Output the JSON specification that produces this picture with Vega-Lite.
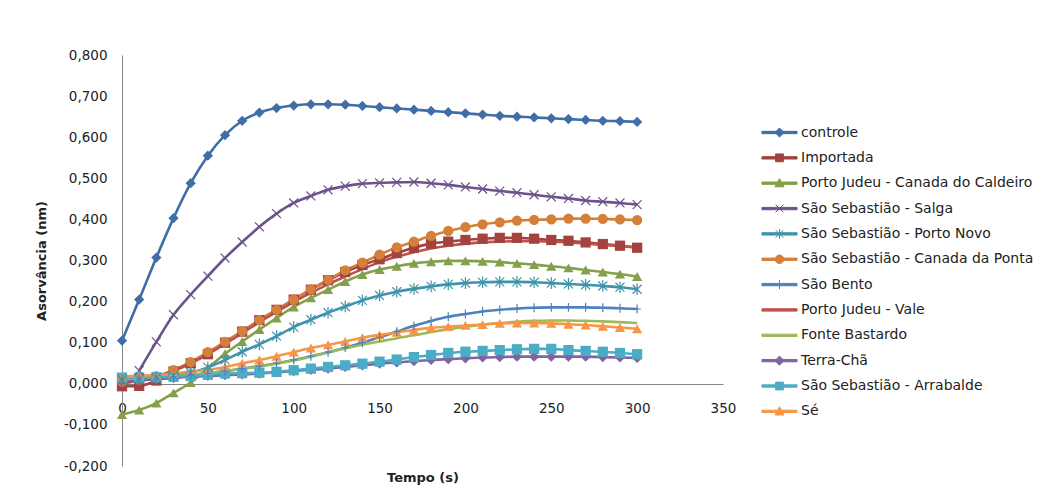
{
"$schema": "https://vega.github.io/schema/vega-lite/v6.json",
"width": 601, "height": 411,
"autosize": {"type": "none"},
"padding": {"left": 122, "top": 55, "right": 326, "bottom": 33},
"background": "white",
"config": {"view": {"stroke": null}, "font": "DejaVu Sans"},
"data": {"values": [
{"t":0,"s":"controle","v":0.105},{"t":10,"s":"controle","v":0.205},{"t":20,"s":"controle","v":0.307},{"t":30,"s":"controle","v":0.403},{"t":40,"s":"controle","v":0.488},{"t":50,"s":"controle","v":0.555},{"t":60,"s":"controle","v":0.605},{"t":70,"s":"controle","v":0.640},{"t":80,"s":"controle","v":0.660},{"t":90,"s":"controle","v":0.671},{"t":100,"s":"controle","v":0.677},{"t":110,"s":"controle","v":0.680},{"t":120,"s":"controle","v":0.680},{"t":130,"s":"controle","v":0.679},{"t":140,"s":"controle","v":0.676},{"t":150,"s":"controle","v":0.673},{"t":160,"s":"controle","v":0.670},{"t":170,"s":"controle","v":0.667},{"t":180,"s":"controle","v":0.664},{"t":190,"s":"controle","v":0.661},{"t":200,"s":"controle","v":0.658},{"t":210,"s":"controle","v":0.655},{"t":220,"s":"controle","v":0.652},{"t":230,"s":"controle","v":0.650},{"t":240,"s":"controle","v":0.648},{"t":250,"s":"controle","v":0.646},{"t":260,"s":"controle","v":0.644},{"t":270,"s":"controle","v":0.642},{"t":280,"s":"controle","v":0.640},{"t":290,"s":"controle","v":0.639},{"t":300,"s":"controle","v":0.637},
{"t":0,"s":"Importada","v":-0.006},{"t":10,"s":"Importada","v":-0.005},{"t":20,"s":"Importada","v":0.008},{"t":30,"s":"Importada","v":0.030},{"t":40,"s":"Importada","v":0.050},{"t":50,"s":"Importada","v":0.072},{"t":60,"s":"Importada","v":0.100},{"t":70,"s":"Importada","v":0.127},{"t":80,"s":"Importada","v":0.155},{"t":90,"s":"Importada","v":0.180},{"t":100,"s":"Importada","v":0.205},{"t":110,"s":"Importada","v":0.229},{"t":120,"s":"Importada","v":0.252},{"t":130,"s":"Importada","v":0.272},{"t":140,"s":"Importada","v":0.289},{"t":150,"s":"Importada","v":0.303},{"t":160,"s":"Importada","v":0.318},{"t":170,"s":"Importada","v":0.331},{"t":180,"s":"Importada","v":0.341},{"t":190,"s":"Importada","v":0.346},{"t":200,"s":"Importada","v":0.350},{"t":210,"s":"Importada","v":0.353},{"t":220,"s":"Importada","v":0.355},{"t":230,"s":"Importada","v":0.355},{"t":240,"s":"Importada","v":0.353},{"t":250,"s":"Importada","v":0.350},{"t":260,"s":"Importada","v":0.348},{"t":270,"s":"Importada","v":0.344},{"t":280,"s":"Importada","v":0.340},{"t":290,"s":"Importada","v":0.336},{"t":300,"s":"Importada","v":0.331},
{"t":0,"s":"Porto Judeu - Canada do Caldeiro","v":-0.075},{"t":10,"s":"Porto Judeu - Canada do Caldeiro","v":-0.064},{"t":20,"s":"Porto Judeu - Canada do Caldeiro","v":-0.047},{"t":30,"s":"Porto Judeu - Canada do Caldeiro","v":-0.022},{"t":40,"s":"Porto Judeu - Canada do Caldeiro","v":0.003},{"t":50,"s":"Porto Judeu - Canada do Caldeiro","v":0.038},{"t":60,"s":"Porto Judeu - Canada do Caldeiro","v":0.073},{"t":70,"s":"Porto Judeu - Canada do Caldeiro","v":0.103},{"t":80,"s":"Porto Judeu - Canada do Caldeiro","v":0.132},{"t":90,"s":"Porto Judeu - Canada do Caldeiro","v":0.160},{"t":100,"s":"Porto Judeu - Canada do Caldeiro","v":0.187},{"t":110,"s":"Porto Judeu - Canada do Caldeiro","v":0.209},{"t":120,"s":"Porto Judeu - Canada do Caldeiro","v":0.229},{"t":130,"s":"Porto Judeu - Canada do Caldeiro","v":0.249},{"t":140,"s":"Porto Judeu - Canada do Caldeiro","v":0.266},{"t":150,"s":"Porto Judeu - Canada do Caldeiro","v":0.278},{"t":160,"s":"Porto Judeu - Canada do Caldeiro","v":0.286},{"t":170,"s":"Porto Judeu - Canada do Caldeiro","v":0.293},{"t":180,"s":"Porto Judeu - Canada do Caldeiro","v":0.297},{"t":190,"s":"Porto Judeu - Canada do Caldeiro","v":0.299},{"t":200,"s":"Porto Judeu - Canada do Caldeiro","v":0.299},{"t":210,"s":"Porto Judeu - Canada do Caldeiro","v":0.298},{"t":220,"s":"Porto Judeu - Canada do Caldeiro","v":0.296},{"t":230,"s":"Porto Judeu - Canada do Caldeiro","v":0.293},{"t":240,"s":"Porto Judeu - Canada do Caldeiro","v":0.290},{"t":250,"s":"Porto Judeu - Canada do Caldeiro","v":0.286},{"t":260,"s":"Porto Judeu - Canada do Caldeiro","v":0.282},{"t":270,"s":"Porto Judeu - Canada do Caldeiro","v":0.277},{"t":280,"s":"Porto Judeu - Canada do Caldeiro","v":0.272},{"t":290,"s":"Porto Judeu - Canada do Caldeiro","v":0.267},{"t":300,"s":"Porto Judeu - Canada do Caldeiro","v":0.261},
{"t":10,"s":"São Sebastião - Salga","v":0.032},{"t":20,"s":"São Sebastião - Salga","v":0.102},{"t":30,"s":"São Sebastião - Salga","v":0.168},{"t":40,"s":"São Sebastião - Salga","v":0.217},{"t":50,"s":"São Sebastião - Salga","v":0.262},{"t":60,"s":"São Sebastião - Salga","v":0.306},{"t":70,"s":"São Sebastião - Salga","v":0.345},{"t":80,"s":"São Sebastião - Salga","v":0.382},{"t":90,"s":"São Sebastião - Salga","v":0.414},{"t":100,"s":"São Sebastião - Salga","v":0.440},{"t":110,"s":"São Sebastião - Salga","v":0.457},{"t":120,"s":"São Sebastião - Salga","v":0.472},{"t":130,"s":"São Sebastião - Salga","v":0.481},{"t":140,"s":"São Sebastião - Salga","v":0.487},{"t":150,"s":"São Sebastião - Salga","v":0.489},{"t":160,"s":"São Sebastião - Salga","v":0.490},{"t":170,"s":"São Sebastião - Salga","v":0.491},{"t":180,"s":"São Sebastião - Salga","v":0.488},{"t":190,"s":"São Sebastião - Salga","v":0.484},{"t":200,"s":"São Sebastião - Salga","v":0.479},{"t":210,"s":"São Sebastião - Salga","v":0.474},{"t":220,"s":"São Sebastião - Salga","v":0.469},{"t":230,"s":"São Sebastião - Salga","v":0.465},{"t":240,"s":"São Sebastião - Salga","v":0.460},{"t":250,"s":"São Sebastião - Salga","v":0.455},{"t":260,"s":"São Sebastião - Salga","v":0.451},{"t":270,"s":"São Sebastião - Salga","v":0.446},{"t":280,"s":"São Sebastião - Salga","v":0.443},{"t":290,"s":"São Sebastião - Salga","v":0.440},{"t":300,"s":"São Sebastião - Salga","v":0.436},
{"t":0,"s":"São Sebastião - Porto Novo","v":0.010},{"t":10,"s":"São Sebastião - Porto Novo","v":0.012},{"t":20,"s":"São Sebastião - Porto Novo","v":0.015},{"t":30,"s":"São Sebastião - Porto Novo","v":0.020},{"t":40,"s":"São Sebastião - Porto Novo","v":0.027},{"t":50,"s":"São Sebastião - Porto Novo","v":0.040},{"t":60,"s":"São Sebastião - Porto Novo","v":0.058},{"t":70,"s":"São Sebastião - Porto Novo","v":0.078},{"t":80,"s":"São Sebastião - Porto Novo","v":0.096},{"t":90,"s":"São Sebastião - Porto Novo","v":0.116},{"t":100,"s":"São Sebastião - Porto Novo","v":0.138},{"t":110,"s":"São Sebastião - Porto Novo","v":0.156},{"t":120,"s":"São Sebastião - Porto Novo","v":0.173},{"t":130,"s":"São Sebastião - Porto Novo","v":0.188},{"t":140,"s":"São Sebastião - Porto Novo","v":0.203},{"t":150,"s":"São Sebastião - Porto Novo","v":0.215},{"t":160,"s":"São Sebastião - Porto Novo","v":0.224},{"t":170,"s":"São Sebastião - Porto Novo","v":0.231},{"t":180,"s":"São Sebastião - Porto Novo","v":0.237},{"t":190,"s":"São Sebastião - Porto Novo","v":0.242},{"t":200,"s":"São Sebastião - Porto Novo","v":0.245},{"t":210,"s":"São Sebastião - Porto Novo","v":0.247},{"t":220,"s":"São Sebastião - Porto Novo","v":0.248},{"t":230,"s":"São Sebastião - Porto Novo","v":0.248},{"t":240,"s":"São Sebastião - Porto Novo","v":0.247},{"t":250,"s":"São Sebastião - Porto Novo","v":0.245},{"t":260,"s":"São Sebastião - Porto Novo","v":0.243},{"t":270,"s":"São Sebastião - Porto Novo","v":0.241},{"t":280,"s":"São Sebastião - Porto Novo","v":0.238},{"t":290,"s":"São Sebastião - Porto Novo","v":0.235},{"t":300,"s":"São Sebastião - Porto Novo","v":0.230},
{"t":0,"s":"São Sebastião - Canada da Ponta","v":0.005},{"t":10,"s":"São Sebastião - Canada da Ponta","v":0.010},{"t":20,"s":"São Sebastião - Canada da Ponta","v":0.018},{"t":30,"s":"São Sebastião - Canada da Ponta","v":0.033},{"t":40,"s":"São Sebastião - Canada da Ponta","v":0.053},{"t":50,"s":"São Sebastião - Canada da Ponta","v":0.077},{"t":60,"s":"São Sebastião - Canada da Ponta","v":0.102},{"t":70,"s":"São Sebastião - Canada da Ponta","v":0.128},{"t":80,"s":"São Sebastião - Canada da Ponta","v":0.155},{"t":90,"s":"São Sebastião - Canada da Ponta","v":0.180},{"t":100,"s":"São Sebastião - Canada da Ponta","v":0.205},{"t":110,"s":"São Sebastião - Canada da Ponta","v":0.230},{"t":120,"s":"São Sebastião - Canada da Ponta","v":0.253},{"t":130,"s":"São Sebastião - Canada da Ponta","v":0.276},{"t":140,"s":"São Sebastião - Canada da Ponta","v":0.295},{"t":150,"s":"São Sebastião - Canada da Ponta","v":0.314},{"t":160,"s":"São Sebastião - Canada da Ponta","v":0.332},{"t":170,"s":"São Sebastião - Canada da Ponta","v":0.346},{"t":180,"s":"São Sebastião - Canada da Ponta","v":0.360},{"t":190,"s":"São Sebastião - Canada da Ponta","v":0.372},{"t":200,"s":"São Sebastião - Canada da Ponta","v":0.381},{"t":210,"s":"São Sebastião - Canada da Ponta","v":0.388},{"t":220,"s":"São Sebastião - Canada da Ponta","v":0.393},{"t":230,"s":"São Sebastião - Canada da Ponta","v":0.397},{"t":240,"s":"São Sebastião - Canada da Ponta","v":0.399},{"t":250,"s":"São Sebastião - Canada da Ponta","v":0.400},{"t":260,"s":"São Sebastião - Canada da Ponta","v":0.402},{"t":270,"s":"São Sebastião - Canada da Ponta","v":0.402},{"t":280,"s":"São Sebastião - Canada da Ponta","v":0.401},{"t":290,"s":"São Sebastião - Canada da Ponta","v":0.400},{"t":300,"s":"São Sebastião - Canada da Ponta","v":0.398},
{"t":0,"s":"São Bento","v":0.010},{"t":10,"s":"São Bento","v":0.012},{"t":20,"s":"São Bento","v":0.014},{"t":30,"s":"São Bento","v":0.017},{"t":40,"s":"São Bento","v":0.021},{"t":50,"s":"São Bento","v":0.026},{"t":60,"s":"São Bento","v":0.031},{"t":70,"s":"São Bento","v":0.037},{"t":80,"s":"São Bento","v":0.043},{"t":90,"s":"São Bento","v":0.050},{"t":100,"s":"São Bento","v":0.058},{"t":110,"s":"São Bento","v":0.067},{"t":120,"s":"São Bento","v":0.077},{"t":130,"s":"São Bento","v":0.088},{"t":140,"s":"São Bento","v":0.100},{"t":150,"s":"São Bento","v":0.113},{"t":160,"s":"São Bento","v":0.127},{"t":170,"s":"São Bento","v":0.141},{"t":180,"s":"São Bento","v":0.153},{"t":190,"s":"São Bento","v":0.163},{"t":200,"s":"São Bento","v":0.170},{"t":210,"s":"São Bento","v":0.176},{"t":220,"s":"São Bento","v":0.180},{"t":230,"s":"São Bento","v":0.183},{"t":240,"s":"São Bento","v":0.185},{"t":250,"s":"São Bento","v":0.186},{"t":260,"s":"São Bento","v":0.186},{"t":270,"s":"São Bento","v":0.186},{"t":280,"s":"São Bento","v":0.185},{"t":290,"s":"São Bento","v":0.184},{"t":300,"s":"São Bento","v":0.182},
{"t":0,"s":"Porto Judeu - Vale","v":0.000},{"t":10,"s":"Porto Judeu - Vale","v":0.008},{"t":20,"s":"Porto Judeu - Vale","v":0.018},{"t":30,"s":"Porto Judeu - Vale","v":0.032},{"t":40,"s":"Porto Judeu - Vale","v":0.050},{"t":50,"s":"Porto Judeu - Vale","v":0.072},{"t":60,"s":"Porto Judeu - Vale","v":0.097},{"t":70,"s":"Porto Judeu - Vale","v":0.123},{"t":80,"s":"Porto Judeu - Vale","v":0.150},{"t":90,"s":"Porto Judeu - Vale","v":0.175},{"t":100,"s":"Porto Judeu - Vale","v":0.199},{"t":110,"s":"Porto Judeu - Vale","v":0.221},{"t":120,"s":"Porto Judeu - Vale","v":0.242},{"t":130,"s":"Porto Judeu - Vale","v":0.261},{"t":140,"s":"Porto Judeu - Vale","v":0.279},{"t":150,"s":"Porto Judeu - Vale","v":0.296},{"t":160,"s":"Porto Judeu - Vale","v":0.309},{"t":170,"s":"Porto Judeu - Vale","v":0.320},{"t":180,"s":"Porto Judeu - Vale","v":0.329},{"t":190,"s":"Porto Judeu - Vale","v":0.336},{"t":200,"s":"Porto Judeu - Vale","v":0.341},{"t":210,"s":"Porto Judeu - Vale","v":0.344},{"t":220,"s":"Porto Judeu - Vale","v":0.346},{"t":230,"s":"Porto Judeu - Vale","v":0.347},{"t":240,"s":"Porto Judeu - Vale","v":0.347},{"t":250,"s":"Porto Judeu - Vale","v":0.346},{"t":260,"s":"Porto Judeu - Vale","v":0.344},{"t":270,"s":"Porto Judeu - Vale","v":0.341},{"t":280,"s":"Porto Judeu - Vale","v":0.338},{"t":290,"s":"Porto Judeu - Vale","v":0.335},{"t":300,"s":"Porto Judeu - Vale","v":0.332},
{"t":0,"s":"Fonte Bastardo","v":0.010},{"t":10,"s":"Fonte Bastardo","v":0.012},{"t":20,"s":"Fonte Bastardo","v":0.015},{"t":30,"s":"Fonte Bastardo","v":0.018},{"t":40,"s":"Fonte Bastardo","v":0.022},{"t":50,"s":"Fonte Bastardo","v":0.026},{"t":60,"s":"Fonte Bastardo","v":0.031},{"t":70,"s":"Fonte Bastardo","v":0.036},{"t":80,"s":"Fonte Bastardo","v":0.042},{"t":90,"s":"Fonte Bastardo","v":0.049},{"t":100,"s":"Fonte Bastardo","v":0.057},{"t":110,"s":"Fonte Bastardo","v":0.066},{"t":120,"s":"Fonte Bastardo","v":0.076},{"t":130,"s":"Fonte Bastardo","v":0.086},{"t":140,"s":"Fonte Bastardo","v":0.095},{"t":150,"s":"Fonte Bastardo","v":0.103},{"t":160,"s":"Fonte Bastardo","v":0.111},{"t":170,"s":"Fonte Bastardo","v":0.118},{"t":180,"s":"Fonte Bastardo","v":0.126},{"t":190,"s":"Fonte Bastardo","v":0.133},{"t":200,"s":"Fonte Bastardo","v":0.139},{"t":210,"s":"Fonte Bastardo","v":0.144},{"t":220,"s":"Fonte Bastardo","v":0.148},{"t":230,"s":"Fonte Bastardo","v":0.151},{"t":240,"s":"Fonte Bastardo","v":0.153},{"t":250,"s":"Fonte Bastardo","v":0.154},{"t":260,"s":"Fonte Bastardo","v":0.154},{"t":270,"s":"Fonte Bastardo","v":0.153},{"t":280,"s":"Fonte Bastardo","v":0.152},{"t":290,"s":"Fonte Bastardo","v":0.150},{"t":300,"s":"Fonte Bastardo","v":0.148},
{"t":0,"s":"Terra-Chã","v":0.005},{"t":10,"s":"Terra-Chã","v":0.008},{"t":20,"s":"Terra-Chã","v":0.011},{"t":30,"s":"Terra-Chã","v":0.014},{"t":40,"s":"Terra-Chã","v":0.017},{"t":50,"s":"Terra-Chã","v":0.019},{"t":60,"s":"Terra-Chã","v":0.021},{"t":70,"s":"Terra-Chã","v":0.023},{"t":80,"s":"Terra-Chã","v":0.025},{"t":90,"s":"Terra-Chã","v":0.028},{"t":100,"s":"Terra-Chã","v":0.031},{"t":110,"s":"Terra-Chã","v":0.034},{"t":120,"s":"Terra-Chã","v":0.037},{"t":130,"s":"Terra-Chã","v":0.041},{"t":140,"s":"Terra-Chã","v":0.045},{"t":150,"s":"Terra-Chã","v":0.049},{"t":160,"s":"Terra-Chã","v":0.052},{"t":170,"s":"Terra-Chã","v":0.055},{"t":180,"s":"Terra-Chã","v":0.058},{"t":190,"s":"Terra-Chã","v":0.060},{"t":200,"s":"Terra-Chã","v":0.062},{"t":210,"s":"Terra-Chã","v":0.064},{"t":220,"s":"Terra-Chã","v":0.065},{"t":230,"s":"Terra-Chã","v":0.066},{"t":240,"s":"Terra-Chã","v":0.066},{"t":250,"s":"Terra-Chã","v":0.066},{"t":260,"s":"Terra-Chã","v":0.066},{"t":270,"s":"Terra-Chã","v":0.066},{"t":280,"s":"Terra-Chã","v":0.065},{"t":290,"s":"Terra-Chã","v":0.064},{"t":300,"s":"Terra-Chã","v":0.063},
{"t":0,"s":"São Sebastião - Arrabalde","v":0.015},{"t":10,"s":"São Sebastião - Arrabalde","v":0.015},{"t":20,"s":"São Sebastião - Arrabalde","v":0.016},{"t":30,"s":"São Sebastião - Arrabalde","v":0.017},{"t":40,"s":"São Sebastião - Arrabalde","v":0.019},{"t":50,"s":"São Sebastião - Arrabalde","v":0.022},{"t":60,"s":"São Sebastião - Arrabalde","v":0.025},{"t":70,"s":"São Sebastião - Arrabalde","v":0.026},{"t":80,"s":"São Sebastião - Arrabalde","v":0.027},{"t":90,"s":"São Sebastião - Arrabalde","v":0.029},{"t":100,"s":"São Sebastião - Arrabalde","v":0.033},{"t":110,"s":"São Sebastião - Arrabalde","v":0.037},{"t":120,"s":"São Sebastião - Arrabalde","v":0.041},{"t":130,"s":"São Sebastião - Arrabalde","v":0.045},{"t":140,"s":"São Sebastião - Arrabalde","v":0.049},{"t":150,"s":"São Sebastião - Arrabalde","v":0.054},{"t":160,"s":"São Sebastião - Arrabalde","v":0.059},{"t":170,"s":"São Sebastião - Arrabalde","v":0.065},{"t":180,"s":"São Sebastião - Arrabalde","v":0.070},{"t":190,"s":"São Sebastião - Arrabalde","v":0.075},{"t":200,"s":"São Sebastião - Arrabalde","v":0.078},{"t":210,"s":"São Sebastião - Arrabalde","v":0.080},{"t":220,"s":"São Sebastião - Arrabalde","v":0.082},{"t":230,"s":"São Sebastião - Arrabalde","v":0.084},{"t":240,"s":"São Sebastião - Arrabalde","v":0.085},{"t":250,"s":"São Sebastião - Arrabalde","v":0.085},{"t":260,"s":"São Sebastião - Arrabalde","v":0.082},{"t":270,"s":"São Sebastião - Arrabalde","v":0.080},{"t":280,"s":"São Sebastião - Arrabalde","v":0.078},{"t":290,"s":"São Sebastião - Arrabalde","v":0.075},{"t":300,"s":"São Sebastião - Arrabalde","v":0.072},
{"t":0,"s":"Sé","v":0.017},{"t":10,"s":"Sé","v":0.020},{"t":20,"s":"Sé","v":0.021},{"t":30,"s":"Sé","v":0.025},{"t":40,"s":"Sé","v":0.030},{"t":50,"s":"Sé","v":0.034},{"t":60,"s":"Sé","v":0.041},{"t":70,"s":"Sé","v":0.050},{"t":80,"s":"Sé","v":0.058},{"t":90,"s":"Sé","v":0.067},{"t":100,"s":"Sé","v":0.077},{"t":110,"s":"Sé","v":0.087},{"t":120,"s":"Sé","v":0.095},{"t":130,"s":"Sé","v":0.103},{"t":140,"s":"Sé","v":0.112},{"t":150,"s":"Sé","v":0.119},{"t":160,"s":"Sé","v":0.125},{"t":170,"s":"Sé","v":0.131},{"t":180,"s":"Sé","v":0.136},{"t":190,"s":"Sé","v":0.139},{"t":200,"s":"Sé","v":0.142},{"t":210,"s":"Sé","v":0.144},{"t":220,"s":"Sé","v":0.147},{"t":230,"s":"Sé","v":0.148},{"t":240,"s":"Sé","v":0.148},{"t":250,"s":"Sé","v":0.147},{"t":260,"s":"Sé","v":0.145},{"t":270,"s":"Sé","v":0.143},{"t":280,"s":"Sé","v":0.140},{"t":290,"s":"Sé","v":0.137},{"t":300,"s":"Sé","v":0.134}
]},
"encoding": {
  "x": {"field": "t", "type": "quantitative", "scale": {"domain": [0, 350], "nice": false},
    "axis": {"values": [0, 50, 100, 150, 200, 250, 300, 350], "title": "Tempo (s)", "offset": -82, "ticks": false, "grid": false,
      "domainColor": "#868686", "domainWidth": 1, "labelPadding": 17, "labelFontSize": 13.5, "labelColor": "#222222", "labelFlush": false,
      "titleFontSize": 13, "titleFontWeight": "bold", "titleColor": "#222222", "titleY": 93, "titleBaseline": "middle"}},
  "y": {"field": "v", "type": "quantitative", "scale": {"domain": [-0.2, 0.8], "nice": false, "zero": false},
    "axis": {"values": [-0.2, -0.1, 0, 0.1, 0.2, 0.3, 0.4, 0.5, 0.6, 0.7, 0.8],
      "labelExpr": "replace(replace(format(datum.value, '.3f'), '.', ','), '\u2212', '-')",
      "title": "Asorvância (nm)", "ticks": false, "grid": false, "domainColor": "#868686", "domainWidth": 1,
      "labelPadding": 15, "labelFontSize": 13.5, "labelColor": "#222222",
      "titleFontSize": 13, "titleFontWeight": "bold", "titleColor": "#222222", "titleX": -81, "titleY": 205.5, "titleBaseline": "middle"}},
  "color": {"field": "s", "type": "nominal",
    "scale": {"domain": ["controle", "Importada", "Porto Judeu - Canada do Caldeiro", "São Sebastião - Salga", "São Sebastião - Porto Novo", "São Sebastião - Canada da Ponta", "São Bento", "Porto Judeu - Vale", "Fonte Bastardo", "Terra-Chã", "São Sebastião - Arrabalde", "Sé"],
      "range": ["#3F6EA6", "#A3423F", "#84A04A", "#6C538B", "#3F93AA", "#D4803A", "#4F81BD", "#C0504D", "#9BBB59", "#8064A2", "#4BACC6", "#F79646"]},
    "legend": {"title": null, "orient": "none", "legendX": 644, "legendY": 64, "padding": 0,
      "labelFontSize": 14, "labelColor": "#222222", "labelOffset": 8, "labelLimit": 0, "symbolSize": 676, "rowPadding": 4.35,
      "encode": {"symbols": {"update": {
        "shape": {"signal": "['M-1.35,-0.09L1.35,-0.09L1.35,0.09L-1.35,0.09ZM0,-0.35L0.35,0L0,0.35L-0.35,0Z','M-1.35,-0.09L1.35,-0.09L1.35,0.09L-1.35,0.09ZM-0.3,-0.3L0.3,-0.3L0.3,0.3L-0.3,0.3Z','M-1.35,-0.09L1.35,-0.09L1.35,0.09L-1.35,0.09ZM0,-0.35L0.35,0.28L-0.35,0.28Z','M-1.35,-0.09L1.35,-0.09L1.35,0.09L-1.35,0.09ZM-0.3,-0.3L0.3,0.3M-0.3,0.3L0.3,-0.3','M-1.35,-0.09L1.35,-0.09L1.35,0.09L-1.35,0.09ZM-0.3,-0.3L0.3,0.3M-0.3,0.3L0.3,-0.3M0,-0.38L0,0.38','M-1.35,-0.09L1.35,-0.09L1.35,0.09L-1.35,0.09ZM-0.33,0A0.33,0.33,0,1,1,0.33,0A0.33,0.33,0,1,1,-0.33,0Z','M-1.35,-0.09L1.35,-0.09L1.35,0.09L-1.35,0.09ZM0,-0.35L0,0.35','M-1.35,-0.09L1.35,-0.09L1.35,0.09L-1.35,0.09Z','M-1.35,-0.09L1.35,-0.09L1.35,0.09L-1.35,0.09Z','M-1.35,-0.09L1.35,-0.09L1.35,0.09L-1.35,0.09ZM0,-0.35L0.35,0L0,0.35L-0.35,0Z','M-1.35,-0.09L1.35,-0.09L1.35,0.09L-1.35,0.09ZM-0.3,-0.3L0.3,-0.3L0.3,0.3L-0.3,0.3Z','M-1.35,-0.09L1.35,-0.09L1.35,0.09L-1.35,0.09ZM0,-0.35L0.35,0.28L-0.35,0.28Z'][indexof(['controle','Importada','Porto Judeu - Canada do Caldeiro','São Sebastião - Salga','São Sebastião - Porto Novo','São Sebastião - Canada da Ponta','São Bento','Porto Judeu - Vale','Fonte Bastardo','Terra-Chã','São Sebastião - Arrabalde','Sé'], datum.value)]"},
        "fill": {"signal": "scale('color', datum.value)"},
        "stroke": {"signal": "scale('color', datum.value)"},
        "strokeWidth": {"value": 1},
        "opacity": {"value": 1}
      }}}}
  }
},
"layer": [
  {"mark": {"type": "line", "interpolate": "monotone", "strokeWidth": 2.6}},
  {"transform": [{"filter": {"field": "s", "oneOf": ["controle", "Importada", "Porto Judeu - Canada do Caldeiro", "São Sebastião - Canada da Ponta", "Terra-Chã", "São Sebastião - Arrabalde", "Sé"]}}],
   "mark": {"type": "point", "filled": true, "opacity": 1, "size": 105},
   "encoding": {"shape": {"field": "s", "type": "nominal", "legend": null,
     "scale": {"domain": ["controle", "Importada", "Porto Judeu - Canada do Caldeiro", "São Sebastião - Salga", "São Sebastião - Porto Novo", "São Sebastião - Canada da Ponta", "São Bento", "Terra-Chã", "São Sebastião - Arrabalde", "Sé"],
       "range": ["diamond", "square", "triangle-up", "M-1,-1L1,1M-1,1L1,-1", "M-1,-1L1,1M-1,1L1,-1M0,-1.3L0,1.3", "circle", "M0,-1L0,1M-0.8,0L0.8,0", "diamond", "square", "triangle-up"]}}}},
  {"transform": [{"filter": {"field": "s", "oneOf": ["São Sebastião - Salga", "São Sebastião - Porto Novo", "São Bento"]}}],
   "mark": {"type": "point", "filled": false, "opacity": 1, "size": 80, "strokeWidth": 1.2},
   "encoding": {"shape": {"field": "s", "type": "nominal", "legend": null,
     "scale": {"domain": ["controle", "Importada", "Porto Judeu - Canada do Caldeiro", "São Sebastião - Salga", "São Sebastião - Porto Novo", "São Sebastião - Canada da Ponta", "São Bento", "Terra-Chã", "São Sebastião - Arrabalde", "Sé"],
       "range": ["diamond", "square", "triangle-up", "M-1,-1L1,1M-1,1L1,-1", "M-1,-1L1,1M-1,1L1,-1M0,-1.3L0,1.3", "circle", "M0,-1L0,1M-0.8,0L0.8,0", "diamond", "square", "triangle-up"]}}}}
]
}
